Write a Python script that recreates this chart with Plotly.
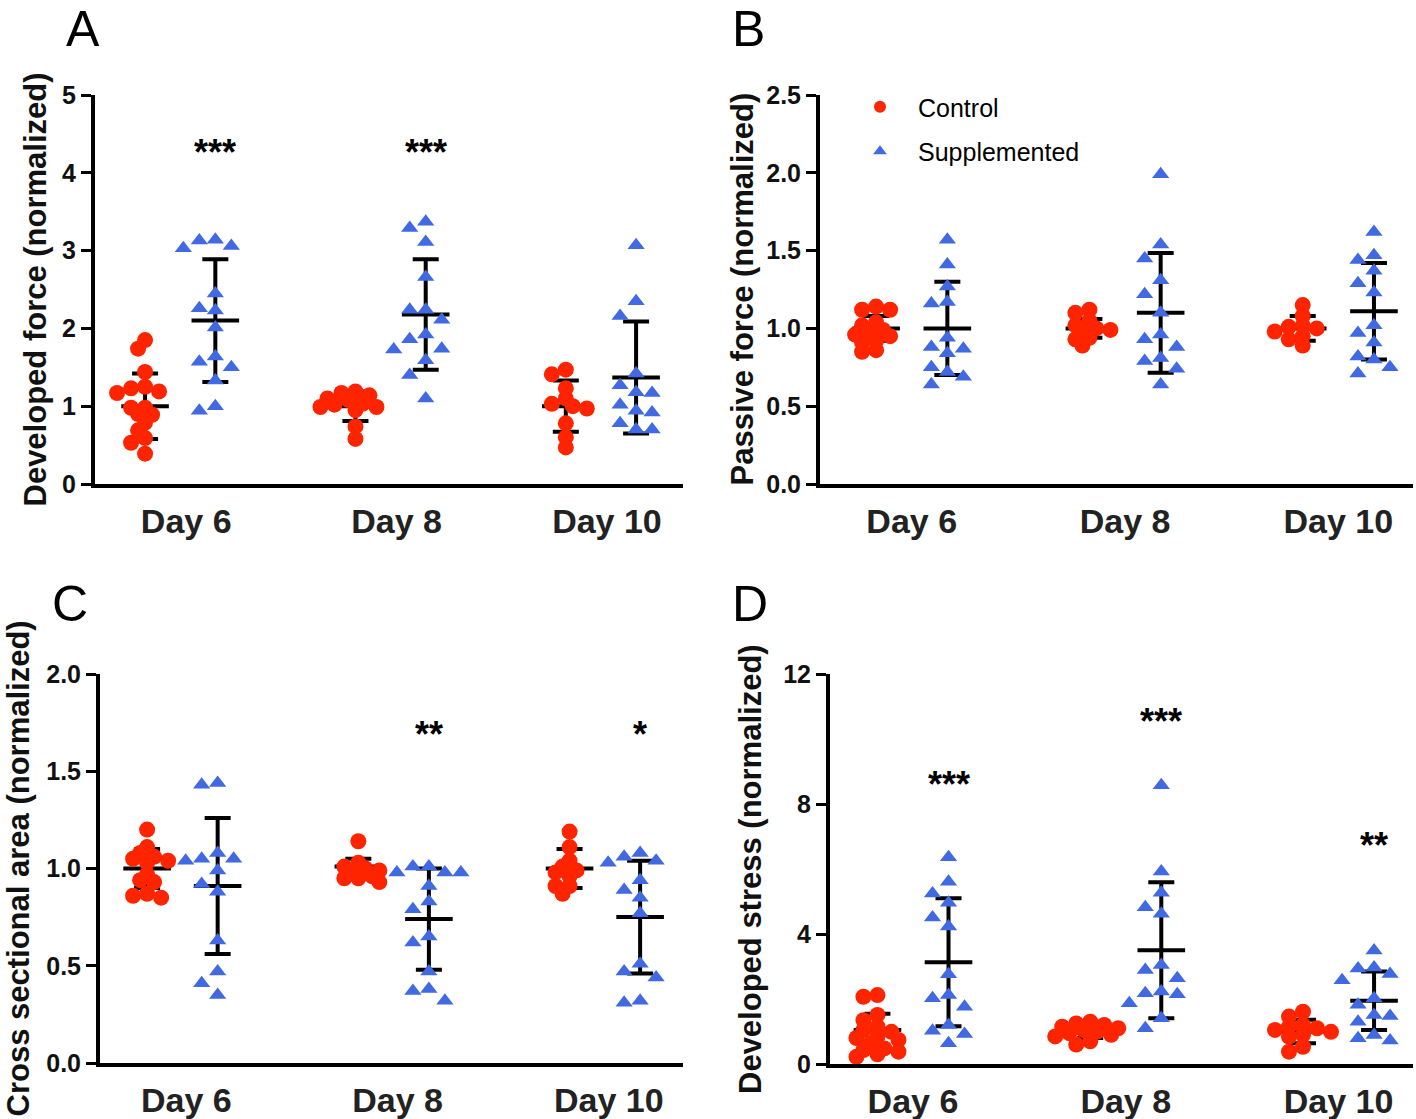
import plotly.graph_objects as go

W, H = 1416, 1119
days = ["Day 6", "Day 8", "Day 10"]

# ---------------- data ----------------
# Panel A: Developed force (normalized)
a_ctrl_d6 = [1.85, 1.74, 1.44, 1.25, 1.23, 1.19, 1.17, 0.98, 0.98, 0.90, 0.89, 0.79, 0.69, 0.59, 0.53, 0.39]
a_ctrl_d8 = [1.19, 1.17, 1.14, 1.10, 1.08, 1.03, 1.02, 0.99, 0.99, 0.95, 0.74, 0.58]
a_ctrl_d10 = [1.47, 1.41, 1.23, 1.10, 1.03, 1.00, 0.97, 0.78, 0.60, 0.47]
a_supp_d6 = [3.14, 3.13, 3.06, 3.03, 2.45, 2.26, 2.23, 2.01, 1.64, 1.57, 1.50, 1.33, 1.00, 0.94]
a_supp_d8 = [3.37, 3.29, 3.11, 2.66, 2.24, 2.24, 2.11, 1.92, 1.86, 1.74, 1.73, 1.59, 1.40, 1.10]
a_supp_d10 = [3.07, 2.35, 2.16, 1.42, 1.27, 1.18, 1.17, 1.02, 0.94, 0.92, 0.78, 0.70, 0.70]
a_ctrl_mean = [1.00, 1.00, 1.00]
a_ctrl_sd = [0.42, 0.19, 0.33]
a_supp_mean = [2.10, 2.18, 1.37]
a_supp_sd = [0.79, 0.71, 0.72]
a_sig = ["***", "***", ""]
a_sig_y = [4.36, 4.36, 0]

# Panel B: Passive force (normalized)
b_ctrl_d6 = [1.14, 1.12, 1.12, 1.04, 1.02, 0.99, 0.98, 0.96, 0.95, 0.92, 0.91, 0.86, 0.85]
b_ctrl_d8 = [1.12, 1.10, 1.05, 1.02, 1.00, 0.99, 0.98, 0.94, 0.93, 0.89]
b_ctrl_d10 = [1.15, 1.08, 1.02, 1.01, 1.00, 0.98, 0.95, 0.93, 0.89]
b_supp_d6 = [1.57, 1.41, 1.27, 1.17, 1.16, 0.94, 0.88, 0.87, 0.84, 0.75, 0.72, 0.69, 0.64]
b_supp_d8 = [1.99, 1.54, 1.45, 1.31, 1.22, 1.10, 0.96, 0.93, 0.88, 0.81, 0.79, 0.74, 0.64]
b_supp_d10 = [1.62, 1.47, 1.44, 1.37, 1.29, 1.23, 1.02, 0.97, 0.91, 0.82, 0.80, 0.75, 0.71]
b_ctrl_mean = [1.00, 1.00, 1.00]
b_ctrl_sd = [0.08, 0.06, 0.08]
b_supp_mean = [1.00, 1.10, 1.11]
b_supp_sd = [0.30, 0.385, 0.31]
b_sig = ["", "", ""]
b_sig_y = [0, 0, 0]

# Panel C: Cross sectional area (normalized)
c_ctrl_d6 = [1.20, 1.11, 1.08, 1.06, 1.05, 1.04, 1.03, 0.97, 0.94, 0.93, 0.87, 0.86, 0.85]
c_ctrl_d8 = [1.14, 1.03, 1.01, 1.00, 0.99, 0.98, 0.96, 0.95, 0.95, 0.93]
c_ctrl_d10 = [1.19, 1.11, 1.04, 1.01, 0.99, 0.98, 0.96, 0.91, 0.91, 0.87]
c_supp_d6 = [1.44, 1.43, 1.08, 1.05, 1.05, 1.04, 0.99, 0.92, 0.88, 0.63, 0.47, 0.41, 0.35]
c_supp_d8 = [1.01, 1.01, 0.98, 0.98, 0.98, 0.91, 0.83, 0.79, 0.65, 0.62, 0.47, 0.38, 0.37, 0.32]
c_supp_d10 = [1.08, 1.06, 1.04, 1.03, 0.94, 0.89, 0.85, 0.77, 0.51, 0.47, 0.44, 0.32, 0.31]
c_ctrl_mean = [1.00, 1.01, 1.00]
c_ctrl_sd = [0.10, 0.04, 0.10]
c_supp_mean = [0.91, 0.74, 0.75]
c_supp_sd = [0.35, 0.26, 0.29]
c_sig = ["", "**", "*"]
c_sig_y = [0, 1.73, 1.73]

# Panel D: Developed stress (normalized)
d_ctrl_d6 = [2.12, 2.07, 1.51, 1.35, 1.15, 1.05, 0.99, 0.84, 0.80, 0.74, 0.64, 0.48, 0.43, 0.38, 0.30, 0.22]
d_ctrl_d8 = [1.30, 1.25, 1.20, 1.15, 1.10, 1.05, 1.00, 0.95, 0.90, 0.85, 0.70, 0.60]
d_ctrl_d10 = [1.61, 1.46, 1.20, 1.15, 1.10, 1.05, 0.99, 0.90, 0.84, 0.53, 0.38]
d_supp_d6 = [6.36, 5.61, 5.25, 4.96, 4.51, 4.23, 2.76, 2.12, 2.02, 1.76, 1.20, 1.02, 0.92, 0.64]
d_supp_d8 = [8.58, 5.92, 5.27, 4.82, 4.62, 3.05, 2.89, 2.64, 2.23, 2.18, 2.15, 1.87, 1.41, 1.10]
d_supp_d10 = [3.49, 2.97, 2.94, 2.77, 2.58, 2.02, 1.82, 1.51, 1.48, 1.30, 0.89, 0.79, 0.72]
d_ctrl_mean = [1.05, 1.00, 1.00]
d_ctrl_sd = [0.50, 0.20, 0.36]
d_supp_mean = [3.13, 3.50, 1.95]
d_supp_sd = [1.97, 2.09, 0.90]
d_sig = ["***", "***", "**"]
d_sig_y = [8.86, 10.80, 6.98]

# ---------------- styling ----------------
FONT = "Liberation Sans, Arial, Helvetica, sans-serif"
RED = "#FF2400"
BLUE = "#4169E1"
OFF = 0.167  # group offset (category units)

panels = [
    dict(key="A", ctrl=[a_ctrl_d6, a_ctrl_d8, a_ctrl_d10], supp=[a_supp_d6, a_supp_d8, a_supp_d10],
         cm=a_ctrl_mean, cs=a_ctrl_sd, sm=a_supp_mean, ss=a_supp_sd, sig=a_sig, sigy=a_sig_y,
         xpx=(95, 683), ypx=(95, 484), xr=(-0.405, 2.39), yr=(0, 5), dtick=1, fmt="d", lshift=6,
         title="Developed force (normalized)", tx=35, letter_xy=(83, 0)),
    dict(key="B", ctrl=[b_ctrl_d6, b_ctrl_d8, b_ctrl_d10], supp=[b_supp_d6, b_supp_d8, b_supp_d10],
         cm=b_ctrl_mean, cs=b_ctrl_sd, sm=b_supp_mean, ss=b_supp_sd, sig=b_sig, sigy=b_sig_y,
         xpx=(820, 1413), ypx=(95, 484), xr=(-0.43, 2.35), yr=(0, 2.5), dtick=0.5, fmt=".1f", lshift=0,
         title="Passive force (normalized)", tx=742, letter_xy=(748, 0)),
    dict(key="C", ctrl=[c_ctrl_d6, c_ctrl_d8, c_ctrl_d10], supp=[c_supp_d6, c_supp_d8, c_supp_d10],
         cm=c_ctrl_mean, cs=c_ctrl_sd, sm=c_supp_mean, ss=c_supp_sd, sig=c_sig, sigy=c_sig_y,
         xpx=(100, 683), ypx=(674, 1063), xr=(-0.39, 2.37), yr=(0, 2.0), dtick=0.5, fmt=".1f", lshift=4,
         title="Cross sectional area (normalized)", tx=18, letter_xy=(70, 575)),
    dict(key="D", ctrl=[d_ctrl_d6, d_ctrl_d8, d_ctrl_d10], supp=[d_supp_d6, d_supp_d8, d_supp_d10],
         cm=d_ctrl_mean, cs=d_ctrl_sd, sm=d_supp_mean, ss=d_supp_sd, sig=d_sig, sigy=d_sig_y,
         xpx=(830, 1413), ypx=(674, 1064), xr=(-0.39, 2.35), yr=(0, 12), dtick=4, fmt="d", lshift=0,
         title="Developed stress (normalized)", tx=750, letter_xy=(750, 575)),
]


def swarm(vals, y_per_unit, step, dmin):
    placed = []
    offs = [0.0] * len(vals)
    order = sorted(range(len(vals)), key=lambda i: -vals[i])
    cands = [0.0]
    for j in range(1, 12):
        cands += [-j * step, j * step]
    for i in order:
        y = vals[i] * y_per_unit
        chosen = cands[-1]
        for c in cands:
            if all((c - px) ** 2 + (y - py) ** 2 >= dmin * dmin for px, py in placed):
                chosen = c
                break
        placed.append((chosen, y))
        offs[i] = chosen
    return offs


fig = go.Figure()
annotations = []

for pi, p in enumerate(panels):
    n = "" if pi == 0 else str(pi + 1)
    xa, ya = "x" + n, "y" + n
    x_per_unit = (p["xpx"][1] - p["xpx"][0]) / (p["xr"][1] - p["xr"][0])
    y_per_unit = (p["ypx"][1] - p["ypx"][0]) / (p["yr"][1] - p["yr"][0])

    # error bars (mean +/- SD)
    for means, sds, sign in [(p["cm"], p["cs"], -1), (p["sm"], p["ss"], 1)]:
        fig.add_trace(go.Scatter(
            x=[g + sign * OFF for g in range(3)], y=means, mode="markers",
            marker=dict(symbol="line-ew", size=34, color="black", line=dict(width=4, color="black")),
            error_y=dict(type="data", array=sds, visible=True, color="black", thickness=4, width=13),
            xaxis=xa, yaxis=ya, showlegend=False, hoverinfo="skip", cliponaxis=False))

    # points
    for groups, sign, sym, col, name, step, dmin, sz, lg in [
        (p["ctrl"], -1, "circle", RED, "Control", 7, 9, 16, "c"),
        (p["supp"], 1, "triangle-up", BLUE, "Supplemented", 16, 15, 15, "s")]:
        xs, ys = [], []
        for g, vals in enumerate(groups):
            offs = swarm(vals, y_per_unit, step, dmin)
            xs += [g + sign * OFF + o / x_per_unit for o in offs]
            ys += vals
        fig.add_trace(go.Scatter(
            x=xs, y=ys, mode="markers", name=name, legendgroup=lg,
            marker=dict(symbol=sym, size=sz, color=col, line=dict(width=0)),
            xaxis=xa, yaxis=ya, showlegend=(pi == 1), cliponaxis=False))

    xd = [p["xpx"][0] / W, p["xpx"][1] / W]
    yd = [1 - p["ypx"][1] / H, 1 - p["ypx"][0] / H]
    ticks = []
    v = p["yr"][0]
    while v <= p["yr"][1] + 1e-9:
        ticks.append(round(v, 3))
        v += p["dtick"]
    fig.update_layout(**{
        "xaxis" + n: dict(domain=xd, range=list(p["xr"]), anchor=ya, showline=True, linewidth=4,
                          linecolor="black", ticks="", tickvals=[0, 1, 2], ticktext=days,
                          ticklabelstandoff=4, ticklabelshift=p["lshift"], showgrid=False, zeroline=False,
                          tickfont=dict(family=FONT, size=34, color="#222", weight="bold")),
        "yaxis" + n: dict(domain=yd, range=list(p["yr"]), anchor=xa, showline=True, linewidth=4,
                          linecolor="black", ticks="outside", ticklen=10, tickwidth=3,
                          tickcolor="black", tickvals=ticks, tickformat=p["fmt"],
                          showgrid=False, zeroline=False,
                          tickfont=dict(family=FONT, size=25, color="#111", weight="bold")),
    })

    # y title
    annotations.append(dict(text=p["title"], xref="paper", yref="paper", x=p["tx"] / W,
                            y=(yd[0] + yd[1]) / 2, textangle=-90, showarrow=False,
                            xanchor="center", yanchor="middle",
                            font=dict(family=FONT, size=31, color="#111", weight="bold")))
    # panel letter (box top-anchored so it stays inside the page)
    annotations.append(dict(text=p["key"], xref="paper", yref="paper", x=p["letter_xy"][0] / W,
                            y=1 - p["letter_xy"][1] / H, showarrow=False, xanchor="center",
                            yanchor="top", borderpad=0,
                            font=dict(family=FONT, size=50, color="black")))
    # significance
    for g in range(3):
        if p["sig"][g]:
            annotations.append(dict(text=p["sig"][g], xref=xa, yref=ya, x=g + OFF, y=p["sigy"][g],
                                    showarrow=False, xanchor="center", yanchor="middle", yshift=-8,
                                    font=dict(family=FONT, size=36, color="black", weight="bold")))

fig.update_layout(
    width=W, height=H, autosize=False,
    margin=dict(l=0, r=0, t=0, b=0, autoexpand=False),
    paper_bgcolor="white", plot_bgcolor="white",
    annotations=annotations,
    legend=dict(x=842 / W, y=1 - 84 / H, xanchor="left", yanchor="top",
                font=dict(family=FONT, size=25, color="black"), tracegroupgap=9,
                itemwidth=66, bgcolor="rgba(0,0,0,0)", itemsizing="constant"),
)

fig.write_html("out.html", config={"displayModeBar": False},
               post_script="document.body.style.margin='0';document.body.style.padding='0';")
